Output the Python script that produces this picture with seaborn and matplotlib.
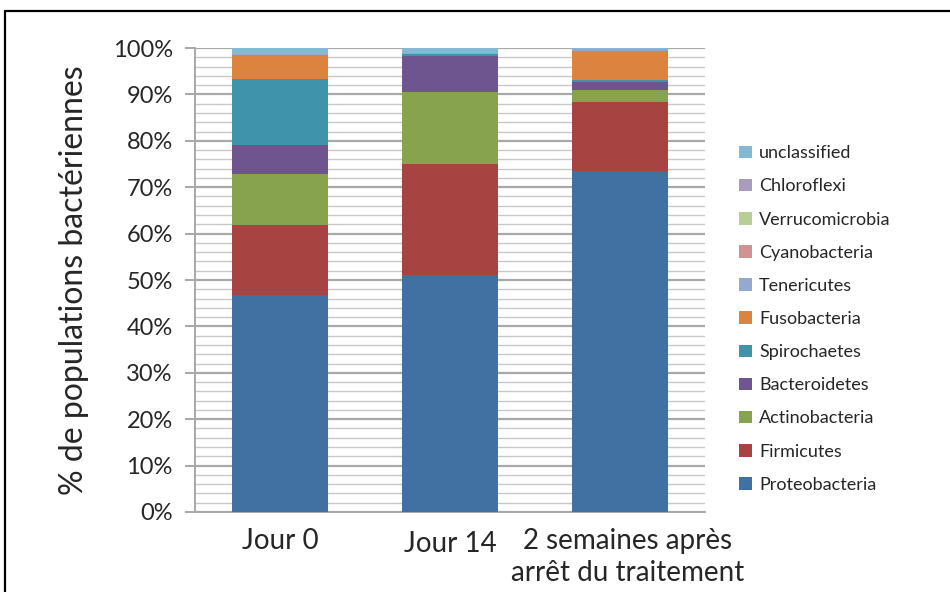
import numpy as np
import pandas as pd
import matplotlib
matplotlib.use("Agg")
import matplotlib.pyplot as plt
import matplotlib.transforms as mtransforms
import seaborn as sns
from matplotlib.patches import Patch
from matplotlib.lines import Line2D
from matplotlib.ticker import MultipleLocator, PercentFormatter

# Data (percent of bacterial populations)
categories = ["Jour 0", "Jour 14", "2 semaines après\narrêt du traitement"]
phyla = ["Proteobacteria", "Firmicutes", "Actinobacteria", "Bacteroidetes",
         "Spirochaetes", "Fusobacteria", "Tenericutes", "Cyanobacteria",
         "Verrucomicrobia", "Chloroflexi", "unclassified"]
proteobacteria = [46.8, 51.1, 73.5]
firmicutes = [15.1, 23.9, 14.8]
actinobacteria = [10.9, 15.6, 2.6]
bacteroidetes = [6.4, 7.7, 1.8]
spirochaetes = [14.1, 0.3, 0.3]
fusobacteria = [5.2, 0.0, 6.4]
tenericutes = [0.2, 0.3, 0.2]
cyanobacteria = [0.1, 0.0, 0.0]
verrucomicrobia = [0.0, 0.0, 0.0]
chloroflexi = [0.0, 0.0, 0.2]
unclassified = [1.3, 1.1, 0.2]

colors = ["#4170A2", "#A64441", "#87A34D", "#6E5590", "#3F93AB", "#DB843D",
          "#93A9CF", "#D19392", "#B9CD96", "#A99BBD", "#82BAD3"]

values = [proteobacteria, firmicutes, actinobacteria, bacteroidetes, spirochaetes,
          fusobacteria, tenericutes, cyanobacteria, verrucomicrobia, chloroflexi,
          unclassified]
df = pd.DataFrame(np.array(values).T, columns=phyla)
df["categorie"] = categories
cum = df[phyla].cumsum(axis=1)
cum["categorie"] = categories

sns.set_style("white")
plt.rcParams["font.family"] = ["Lato", "DejaVu Sans"]

fig = plt.figure(figsize=(9.5, 5.92), dpi=100)
ax = fig.add_axes([195 / 950, 1 - 512 / 592, 510 / 950, 464 / 592])

# stacked bars: draw cumulative totals from the top series down
for name, col in zip(phyla[::-1], colors[::-1]):
    sns.barplot(data=cum, x="categorie", y=name, color=col, width=0.57,
                linewidth=0, saturation=1, ax=ax, zorder=3)

ax.set_ylim(0, 100)
ax.set_xlim(-0.5, 2.5)
ax.yaxis.set_major_locator(MultipleLocator(10))
ax.yaxis.set_minor_locator(MultipleLocator(2))
ax.yaxis.set_major_formatter(PercentFormatter(decimals=0))
ax.grid(axis="y", which="major", color="#A8A8A8", linewidth=1.6, zorder=0)
ax.grid(axis="y", which="minor", color="#C8C8C8", linewidth=1.0, zorder=0)
ax.set_axisbelow(True)

for s in ["top", "right"]:
    ax.spines[s].set_visible(False)
ax.spines["left"].set_color("#A8A8A8")
ax.spines["bottom"].set_color("#A8A8A8")
ax.spines["left"].set_linewidth(1.4)
ax.spines["bottom"].set_linewidth(1.4)

ax.tick_params(axis="y", which="major", left=True, length=7, width=1.4,
               color="#A8A8A8", labelsize=17, pad=9)
ax.tick_params(axis="y", which="minor", left=False)
ax.tick_params(axis="x", bottom=False, labelsize=20, pad=8)
xlabels = ax.get_xticklabels()
for lab in xlabels:
    lab.set_linespacing(1.3)
# the long label sits a bit to the right in the original
xlabels[2].set_transform(xlabels[2].get_transform() +
                         mtransforms.ScaledTranslation(8 / 100, 0, fig.dpi_scale_trans))
xlabels[1].set_transform(xlabels[1].get_transform() +
                         mtransforms.ScaledTranslation(0, -3 / 100, fig.dpi_scale_trans))
ax.set_xlabel("")
ax.set_ylabel("% de populations bactériennes", fontsize=23, labelpad=17)

handles = [Patch(facecolor=c, edgecolor="none") for c in colors[::-1]]
fig.legend(handles, phyla[::-1], loc="upper left",
           bbox_to_anchor=(723 / 950, 1 - 129 / 592), frameon=False,
           fontsize=13, handlelength=0.7, handleheight=0.7,
           handletextpad=0.4, labelspacing=0.95)

# frame around the figure (left and top edges visible)
fig.add_artist(Line2D([5 / 950, 5 / 950], [0, 1 - 11 / 592], color="black",
                      linewidth=1.6, transform=fig.transFigure))
fig.add_artist(Line2D([5 / 950, 1], [1 - 11 / 592, 1 - 11 / 592], color="black",
                      linewidth=1.6, transform=fig.transFigure))

fig.savefig("out.png", dpi=100)
